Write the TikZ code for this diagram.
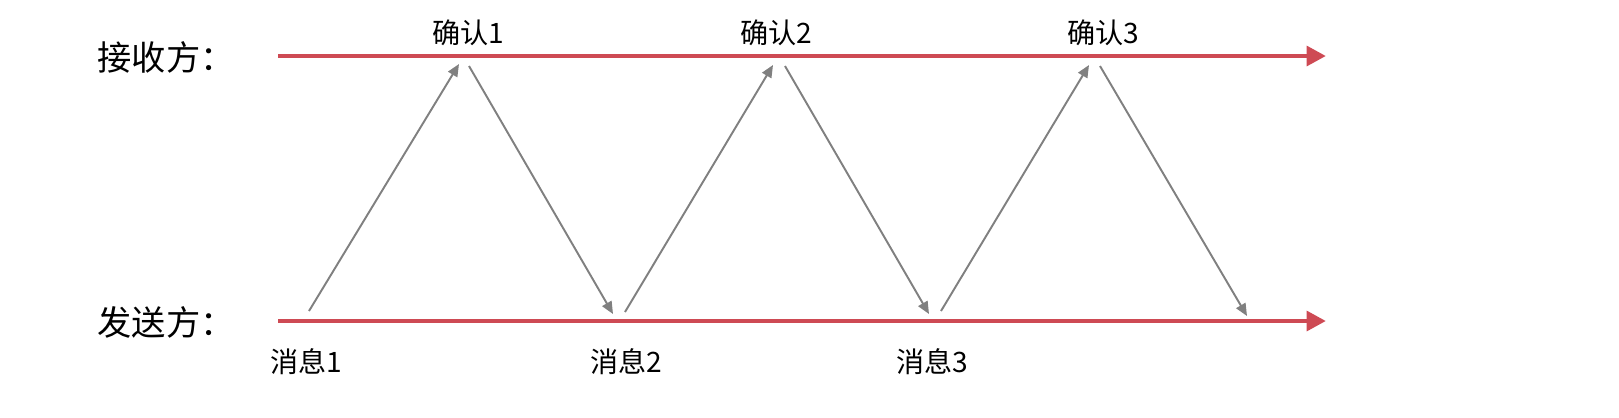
\documentclass[tikz,border=0pt]{standalone}
\usepackage{fontspec}
\usepackage{tikz}
\usetikzlibrary{arrows.meta}
\newfontfamily\cjk{Noto Sans CJK SC}
\definecolor{linered}{RGB}{206,74,84}
\definecolor{msggray}{RGB}{128,128,128}
\tikzset{
  timeline/.style={draw=linered, line width=2.8pt, -{Triangle[length=11pt,width=11pt]}},
  msgarrow/.style={draw=msggray, line width=1.1pt, -{Triangle[length=7pt,width=6pt]}},
  sidelabel/.style={font=\cjk\fontsize{19.5}{22}\selectfont, anchor=center},
  evlabel/.style={font=\cjk\fontsize{16}{19}\selectfont, anchor=center}
}
\begin{document}
\begin{tikzpicture}[x=0.02cm, y=-0.02cm]
\useasboundingbox (0,0) rectangle (1619,417);
% time lines
\coordinate (rstart) at (278,56);
\coordinate (rend) at (1326,56);
\coordinate (sstart) at (278,321);
\coordinate (send) at (1326,321);
\draw[timeline] (rstart) -- (rend);
\draw[timeline] (sstart) -- (send);
\node[sidelabel] (recv) at (166,57) {接收方：};
\node[sidelabel] (sender) at (166,322) {发送方：};
% arrow ends
\coordinate (m1) at (309,311);
\coordinate (a1) at (459,64);
\coordinate (b1) at (469,66);
\coordinate (m2e) at (613,314);
\coordinate (m2) at (625,312);
\coordinate (a2) at (773,65);
\coordinate (b2) at (785,66);
\coordinate (m3e) at (929,314);
\coordinate (m3) at (941,311);
\coordinate (a3) at (1089,65);
\coordinate (b3) at (1100,66);
\coordinate (m4e) at (1247,316);
\draw[msgarrow] (m1) -- (a1);
\draw[msgarrow] (b1) -- (m2e);
\draw[msgarrow] (m2) -- (a2);
\draw[msgarrow] (b2) -- (m3e);
\draw[msgarrow] (m3) -- (a3);
\draw[msgarrow] (b3) -- (m4e);
% labels
\node[evlabel] (ack1) at (468,33) {确认1};
\node[evlabel] (ack2) at (776,33) {确认2};
\node[evlabel] (ack3) at (1103,33) {确认3};
\node[evlabel] (msg1) at (306,362) {消息1};
\node[evlabel] (msg2) at (626,362) {消息2};
\node[evlabel] (msg3) at (932,362) {消息3};
\end{tikzpicture}
\end{document}
